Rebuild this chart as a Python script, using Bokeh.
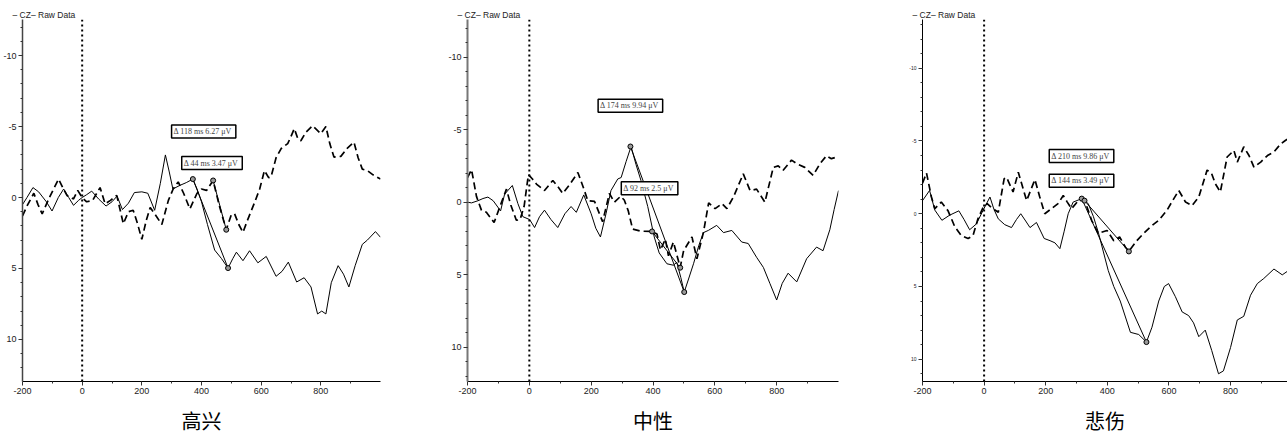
from bokeh.plotting import figure
from bokeh.models import Range1d, FixedTicker, Span, Label, Title
from bokeh.layouts import row
from bokeh.embed import file_html
from bokeh.resources import INLINE

# ---------------- data ----------------
panel_titles = ["高兴", "中性", "悲伤"]
legend_text = "– CZ– Raw Data"
x_major_ticks = [-200, 0, 200, 400, 600, 800]
x_minor_ticks = [-100, 100, 300, 500, 700, 900]
y_major_ticks = [-10, -5, 0, 5, 10]

# 高兴 (happy)
happy_solid_t = [-200, -185, -165, -146, -120, -101, -80, -62, -45, -29, -12, 0, 15, 32, 55, 80, 100, 117, 135, 155, 175, 200, 220, 243, 262, 279, 292, 304, 327, 349, 371, 385, 400, 420, 444, 467, 489, 505, 517, 539, 561, 589, 617, 650, 670, 691, 719, 744, 767, 789, 803, 817, 835, 858, 876, 894, 915, 939, 956, 983, 1000]
happy_solid_uv = [0.5, 0.0, -0.7, -0.4, 0.3, 0.95, 0.0, -0.6, 0.0, 0.55, 0.2, 0.0, -0.2, -0.45, 0.1, 0.6, 0.3, -0.1, 0.85, 0.4, -0.35, -0.4, -0.3, 0.9, -1.0, -3.0, -1.8, -0.6, -0.85, -1.05, -1.3, -0.6, 0.3, 1.9, 3.7, 4.3, 4.97, 4.3, 3.85, 4.45, 3.75, 4.6, 4.15, 5.55, 5.2, 4.55, 5.95, 5.65, 6.3, 8.2, 8.0, 8.2, 6.0, 4.8, 5.4, 6.3, 4.8, 3.3, 3.0, 2.4, 2.8]
happy_dash_t = [-200, -185, -162, -148, -134, -110, -79, -65, -51, -29, -15, 0, 15, 35, 60, 77, 95, 116, 138, 155, 171, 185, 200, 215, 228, 248, 267, 289, 305, 322, 340, 361, 385, 400, 417, 439, 460, 483, 500, 511, 525, 539, 556, 578, 595, 611, 625, 633, 650, 667, 689, 700, 711, 722, 733, 750, 772, 785, 800, 817, 830, 844, 867, 890, 911, 925, 939, 956, 975, 1000]
happy_dash_uv = [1.3, 0.6, -0.3, 0.5, 1.15, 0.0, -1.3, -0.7, -0.15, 0.1, -0.5, 0.0, 0.3, 0.2, -0.7, 0.45, 0.2, -0.15, 1.85, 1.0, 0.9, 1.8, 2.95, 1.6, 0.7, 1.3, 1.9, 0.2, -0.6, -1.1, -0.3, 0.8, -0.3, -0.6, -0.5, -1.2, 0.6, 2.27, 1.2, 1.15, 1.9, 2.45, 1.5, 0.35, -0.6, -1.9, -1.4, -1.45, -2.8, -3.45, -3.8, -4.3, -4.85, -4.2, -4.0, -4.6, -5.05, -4.8, -4.5, -5.0, -3.8, -2.85, -2.9, -3.5, -3.9, -2.8, -2.0, -1.9, -1.6, -1.3]
happy_meas_solid = [(371, -1.3), (489, 4.97)]
happy_meas_dash = [(439, -1.2), (483, 2.27)]
happy_notes = ["Δ  118 ms 6.27 μV", "Δ  44 ms 3.47 μV"]

# 中性 (neutral)
neutral_solid_t = [-200, -187, -166, -150, -134, -117, -93, -80, -55, -37, -21, 1, 17, 33, 49, 70, 92, 115, 135, 152, 176, 200, 215, 230, 248, 264, 286, 297, 313, 329, 345, 361, 383, 404, 420, 445, 466, 477, 490, 501, 515, 531, 548, 563, 579, 606, 628, 655, 687, 708, 735, 757, 778, 800, 818, 837, 865, 897, 929, 950, 972, 986, 1000]
neutral_solid_uv = [0.0, 0.05, -0.1, -0.25, -0.35, -0.1, 0.6, -0.55, -1.15, 0.1, 1.0, 1.2, 1.75, 1.0, 0.55, 1.2, 1.75, 0.8, 0.3, 0.7, -0.5, 0.8, 1.8, 2.4, 0.8, -0.8, -1.6, -1.7, -2.8, -3.84, -2.6, -1.5, 0.3, 2.4, 3.5, 4.25, 4.35, 4.15, 5.2, 6.2, 5.3, 4.25, 3.0, 2.1, 1.95, 1.6, 2.1, 1.95, 2.75, 2.85, 3.8, 4.5, 5.6, 6.75, 5.6, 4.9, 5.5, 3.9, 3.1, 3.35, 1.9, 0.5, -0.8]
neutral_dash_t = [-200, -187, -171, -155, -139, -114, -95, -74, -60, -42, -30, -17, -3, 10, 23, 49, 76, 95, 108, 130, 157, 175, 189, 211, 237, 259, 275, 295, 307, 320, 334, 361, 397, 413, 424, 440, 450, 466, 488, 499, 526, 542, 563, 580, 601, 623, 639, 660, 692, 714, 735, 762, 789, 805, 821, 848, 865, 891, 918, 940, 961, 977, 1000]
neutral_dash_uv = [-1.7, -2.25, -0.4, 0.55, 0.7, 1.4, 0.3, -0.9, 0.2, 1.25, 1.2, 0.3, -1.9, -1.6, -1.25, -0.8, -1.5, -1.0, -0.6, -1.2, -2.05, -1.0, -0.1, -0.05, 1.35, -0.6, 0.0, -0.4, -0.15, 0.6, 1.85, 2.0, 2.02, 2.2, 3.3, 2.55, 3.7, 2.75, 4.5, 3.35, 2.4, 3.9, 2.1, 0.05, 0.45, 0.1, 0.45, -0.35, -1.95, -0.8, -0.9, 0.0, -2.4, -2.5, -2.2, -2.9, -2.65, -2.4, -1.85, -2.65, -3.2, -3.0, -3.15]
neutral_meas_solid = [(327, -3.84), (501, 6.2)]
neutral_meas_dash = [(397, 2.02), (488, 4.52)]
neutral_notes = ["Δ  174 ms 9.94 μV", "Δ  92 ms 2.5 μV"]

# 悲伤 (sad)
sad_solid_t = [-200, -177, -160, -137, -112, -82, -65, -47, -25, -3, 19, 32, 46, 67, 89, 105, 119, 135, 149, 170, 195, 214, 230, 246, 260, 273, 289, 316, 338, 355, 371, 403, 421, 442, 475, 502, 527, 545, 567, 585, 599, 621, 643, 664, 680, 697, 718, 739, 761, 777, 800, 822, 843, 865, 887, 908, 941, 968, 985, 1000]
sad_solid_uv = [-0.9, -1.6, -0.25, 0.45, 0.1, -0.2, 0.4, 1.1, 0.7, -0.25, -1.15, -0.3, 0.35, 0.75, 0.95, 0.4, 0.0, 0.5, 0.95, 0.6, 1.7, 1.85, 2.0, 2.4, 1.2, 0.0, -0.8, -1.03, -0.7, 0.2, 1.3, 3.9, 5.0, 6.0, 8.15, 8.3, 8.82, 7.8, 6.0, 5.0, 4.8, 5.7, 6.75, 7.0, 7.5, 8.45, 8.0, 9.4, 11.0, 10.8, 9.2, 7.3, 7.05, 5.6, 4.8, 4.45, 3.8, 4.2, 3.95, 3.9]
sad_dash_t = [-200, -187, -171, -160, -139, -117, -95, -74, -52, -36, -20, -3, 10, 25, 46, 65, 73, 94, 111, 138, 165, 180, 197, 219, 240, 257, 270, 284, 306, 326, 349, 371, 399, 421, 440, 459, 470, 496, 518, 540, 567, 594, 612, 632, 654, 675, 697, 724, 738, 751, 767, 789, 811, 822, 843, 860, 876, 898, 920, 941, 963, 979, 1000]
sad_dash_uv = [-2.1, -2.8, -1.15, -0.35, -0.8, -0.2, 0.9, 1.5, 1.7, 1.5, 0.35, -0.45, -0.7, -0.4, -0.1, -2.4, -2.5, -1.5, -2.85, -0.9, -2.35, -1.2, 0.0, -0.35, -0.7, -1.25, -0.8, -0.35, -0.9, -0.95, 0.45, 1.35, 1.15, 1.85, 1.6, 2.3, 2.57, 1.85, 1.35, 0.9, 0.45, -0.25, -0.9, -1.6, -0.8, -0.55, -1.15, -3.0, -2.8, -2.05, -1.5, -3.9, -4.35, -3.55, -4.6, -4.0, -3.2, -3.55, -4.0, -4.25, -4.8, -5.05, -5.3]
sad_meas_solid = [(317, -1.04), (527, 8.82)]
sad_meas_dash = [(326, -0.9), (470, 2.59)]
sad_notes = ["Δ  210 ms 9.86 μV", "Δ  144 ms 3.49 μV"]

FRAME_TOP = 19      # px, shared by the three (aligned) plot frames
FRAME_BOTTOM = 56   # px of border under the frames


def make_panel(cfg):
    p = figure(width=cfg["w"], height=437, output_backend="svg", toolbar_location=None,
               x_range=Range1d(-200, cfg["xmax"]), y_range=Range1d(cfg["ybot"], cfg["ytop"]),
               min_border_left=cfg["bl"], min_border_right=cfg["br"],
               min_border_top=FRAME_TOP, min_border_bottom=FRAME_BOTTOM)
    p.outline_line_color = None
    p.xgrid.visible = False
    p.ygrid.visible = False
    p.background_fill_color = "white"
    p.border_fill_color = "white"

    p.xaxis.ticker = FixedTicker(ticks=x_major_ticks, minor_ticks=x_minor_ticks)
    p.yaxis.ticker = FixedTicker(ticks=y_major_ticks, minor_ticks=list(range(-14, 14)))
    p.xaxis.major_label_overrides = {t: str(t) for t in x_major_ticks}
    p.yaxis.major_label_overrides = {t: str(t) for t in y_major_ticks}
    for ax in (p.xaxis[0], p.yaxis[0]):
        ax.major_tick_in = 0
        ax.major_tick_out = 4
        ax.minor_tick_in = 0
        ax.minor_tick_out = 2
        ax.major_label_text_font = "Liberation Sans"
        ax.major_label_text_color = "#222222"
        ax.major_tick_line_color = "#333333"
        ax.minor_tick_line_color = "#333333"
        ax.major_label_standoff = 2
    p.xaxis.major_label_text_font_size = "9px"
    p.yaxis.major_label_text_font_size = cfg["yfs"]
    p.xaxis.axis_line_color = "black"
    p.yaxis.axis_line_color = cfg["yaxcol"]
    p.yaxis.axis_line_width = cfg["yaxw"]

    # condition name under the x axis
    p.xaxis.axis_label = cfg["name"]
    p.xaxis.axis_label_text_font = "Noto Sans CJK SC"
    p.xaxis.axis_label_text_font_size = "20px"
    p.xaxis.axis_label_text_font_style = "normal"
    p.xaxis.axis_label_text_color = "black"
    p.xaxis.axis_label_standoff = 9

    # legend text above the plot
    p.add_layout(Title(text=legend_text, align="left", offset=-10,
                       text_font="Liberation Sans", text_font_size="8.5px",
                       text_font_style="normal", text_color="#222222",
                       standoff=0), "above")

    p.add_layout(Span(location=0, dimension="height", line_color="black",
                      line_width=2, line_dash="2 3"))

    p.line(cfg["st"], cfg["su"], line_color="black", line_width=1)
    p.line(cfg["dt"], cfg["du"], line_color="black", line_width=1.7, line_dash="7 4")

    for meas in (cfg["ms"], cfg["md"]):
        xs = [m[0] for m in meas]
        ys = [m[1] for m in meas]
        p.line(xs, ys, line_color="black", line_width=1)
        p.scatter(xs, ys, size=5, marker="circle", line_color="black",
                  fill_color="#999999", line_width=1)

    for (nx, ny), txt in zip(cfg["note_pos"], cfg["notes"]):
        p.add_layout(Label(x=nx, y=ny, text=txt, text_font="Liberation Serif",
                           text_font_size="8px", text_color="#444444",
                           text_align="left", text_baseline="middle", x_offset=2,
                           background_fill_color="white", border_line_color="black",
                           border_line_width=1.5, padding=2))
    return p


cfgs = [
    dict(w=445, bl=20, br=65, xmax=1000, ybot=12.96, ytop=-12.54,
         yfs="9px", yaxcol="#444444", yaxw=1.5,
         st=happy_solid_t, su=happy_solid_uv, dt=happy_dash_t, du=happy_dash_uv,
         ms=happy_meas_solid, md=happy_meas_dash, notes=happy_notes,
         note_pos=[(293, -4.65), (327, -2.43)], name=panel_titles[0]),
    dict(w=455, bl=22, br=62, xmax=1000, ybot=12.37, ytop=-12.6,
         yfs="9px", yaxcol="#777777", yaxw=2,
         st=neutral_solid_t, su=neutral_solid_uv, dt=neutral_dash_t, du=neutral_dash_uv,
         ms=neutral_meas_solid, md=neutral_meas_dash, notes=neutral_notes,
         note_pos=[(216, -6.65), (291, -0.96)], name=panel_titles[1]),
    dict(w=387, bl=22, br=0, xmax=985, ybot=11.53, ytop=-13.35,
         yfs="5px", yaxcol="black", yaxw=1,
         st=sad_solid_t, su=sad_solid_uv, dt=sad_dash_t, du=sad_dash_uv,
         ms=sad_meas_solid, md=sad_meas_dash, notes=sad_notes,
         note_pos=[(205, -3.96), (205, -2.27)], name=panel_titles[2]),
]

panels = [make_panel(c) for c in cfgs]
layout = row(*panels, spacing=0)

open("out.html", "w").write(file_html(layout, INLINE))
